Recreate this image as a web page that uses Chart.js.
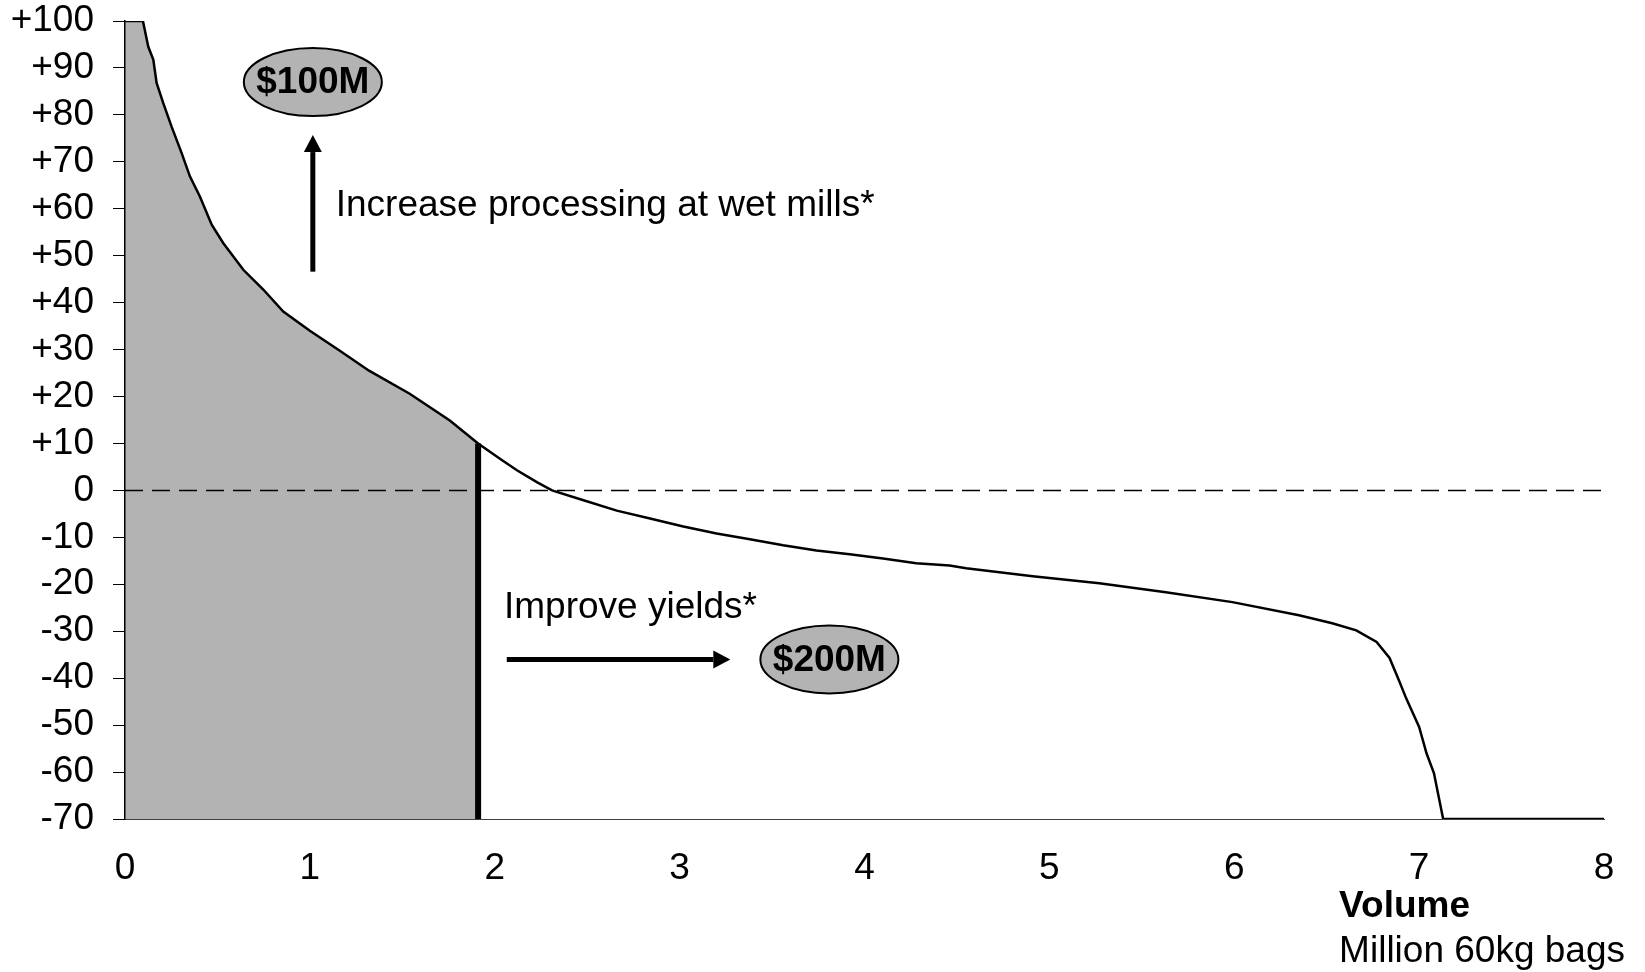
<!DOCTYPE html>
<html>
<head>
<meta charset="utf-8">
<script src="https://cdn.jsdelivr.net/npm/chart.js@4.4.1/dist/chart.umd.min.js"></script>
<style>
  body { margin: 0; background: #fff; }
  #wrap { width: 1645px; height: 972px; position: relative; }
</style>
</head>
<body>
<div id="wrap"><canvas id="curveCanvas"></canvas></div>
<script>
// margin curve (volume in million 60kg bags)
var volume = [0, 0.097, 0.126, 0.153, 0.171, 0.207, 0.252, 0.306, 0.351, 0.405, 0.469, 0.531, 0.64, 0.748, 0.856, 1.0,
  1.16, 1.32, 1.54, 1.757, 1.91, 2.03, 2.12, 2.23, 2.31, 2.48, 2.66, 2.84, 3.02, 3.2, 3.38, 3.56, 3.74,
  3.92, 4.1, 4.28, 4.46, 4.55, 4.91, 5.27, 5.63, 5.99, 6.35, 6.53, 6.66, 6.77, 6.84, 6.89, 6.93, 7.0,
  7.04, 7.08, 7.13, 8];
var margin = [100, 100, 94.5, 91.8, 86.8, 82.5, 77.5, 71.9, 66.9, 62.6, 56.6, 52.7, 47, 42.8, 38.1, 34,
  29.8, 25.5, 20.6, 14.9, 10, 6.7, 4.3, 1.7, 0, -2.1, -4.3, -6, -7.7, -9.2, -10.4, -11.7, -12.8,
  -13.6, -14.5, -15.5, -16, -16.6, -18.3, -19.8, -21.7, -23.8, -26.6, -28.3, -29.8, -32.3, -35.7, -40.4, -44.3, -50.4,
  -56, -60.2, -70, -70];
var cutoffVolume = 1.91;
var cutoffMargin = 10;
var yMin = -70, yMax = 100, yStep = 10;
var xMin = 0, xMax = 8, xStep = 1;
var bubbleLabels = ["$100M", "$200M"];
var noteLabels = ["Increase processing at wet mills*", "Improve yields*"];
var axisTitle = ["Volume", "Million 60kg bags"];

var FONT = "'Liberation Sans', Arial, sans-serif";
var SIZE = 37;

var curve = [];
var shaded = [];
for (var i = 0; i < volume.length; i++) {
    curve.push({ x: volume[i], y: margin[i] });
    if (volume[i] <= cutoffVolume) shaded.push({ x: volume[i], y: margin[i] });
}

// where the notes sit, in data units
var place = {
    bubble1: { x: 1.016, y: 87 },
    upArrow: { x: 1.016, y0: 46.6, y1: 75.7 },
    note1: { x: 1.14, y: 60.6 },
    note2: { x: 2.05, y: -25 },
    rightArrow: { y: -36, x0: 2.065, x1: 3.35 },
    bubble2: { x: 3.81, y: -36 }
};

function bubble(ctx, cx, cy, text) {
    ctx.save();
    ctx.beginPath();
    ctx.ellipse(cx, cy, 69, 34, 0, 0, Math.PI * 2);
    ctx.fillStyle = "#b3b3b3";
    ctx.fill();
    ctx.lineWidth = 2;
    ctx.strokeStyle = "#000";
    ctx.stroke();
    ctx.fillStyle = "#000";
    ctx.font = "bold " + SIZE + "px " + FONT;
    ctx.textAlign = "center";
    ctx.textBaseline = "middle";
    ctx.fillText(text, cx, cy + 1);
    ctx.restore();
}

function arrow(ctx, x0, y0, x1, y1) {
    var ang = Math.atan2(y1 - y0, x1 - x0);
    var head = 17, half = 9;
    var bx = x1 - head * Math.cos(ang), by = y1 - head * Math.sin(ang);
    ctx.save();
    ctx.strokeStyle = "#000";
    ctx.fillStyle = "#000";
    ctx.lineWidth = 5;
    ctx.beginPath();
    ctx.moveTo(x0, y0);
    ctx.lineTo(bx, by);
    ctx.stroke();
    ctx.beginPath();
    ctx.moveTo(x1, y1);
    ctx.lineTo(bx + half * Math.sin(ang), by - half * Math.cos(ang));
    ctx.lineTo(bx - half * Math.sin(ang), by + half * Math.cos(ang));
    ctx.closePath();
    ctx.fill();
    ctx.restore();
}

var notesPlugin = {
    id: "notes",
    afterDraw: function (chart) {
        var ctx = chart.ctx;
        var xs = chart.scales.x, ys = chart.scales.y;
        var p = place;
        bubble(ctx, xs.getPixelForValue(p.bubble1.x), ys.getPixelForValue(p.bubble1.y), bubbleLabels[0]);
        bubble(ctx, xs.getPixelForValue(p.bubble2.x), ys.getPixelForValue(p.bubble2.y), bubbleLabels[1]);
        arrow(ctx, xs.getPixelForValue(p.upArrow.x), ys.getPixelForValue(p.upArrow.y0),
            xs.getPixelForValue(p.upArrow.x), ys.getPixelForValue(p.upArrow.y1));
        arrow(ctx, xs.getPixelForValue(p.rightArrow.x0), ys.getPixelForValue(p.rightArrow.y),
            xs.getPixelForValue(p.rightArrow.x1) - 14, ys.getPixelForValue(p.rightArrow.y));

        ctx.save();
        ctx.fillStyle = "#000";
        ctx.font = SIZE + "px " + FONT;
        ctx.textAlign = "left";
        ctx.textBaseline = "middle";
        ctx.fillText(noteLabels[0], xs.getPixelForValue(p.note1.x), ys.getPixelForValue(p.note1.y));
        ctx.fillText(noteLabels[1], xs.getPixelForValue(p.note2.x), ys.getPixelForValue(p.note2.y));

        // axis title, two lines under the right end of the x axis
        var w = ctx.measureText(axisTitle[1]).width;
        var left = chart.width - 20 - w;
        ctx.fillText(axisTitle[1], left, chart.chartArea.bottom + 133);
        ctx.font = "bold " + SIZE + "px " + FONT;
        ctx.fillText(axisTitle[0], left, chart.chartArea.bottom + 88);
        ctx.restore();
    }
};

window.onload = function () {
    var ctx = document.getElementById("curveCanvas").getContext("2d");
    Chart.defaults.font.family = FONT;
    Chart.defaults.color = "#000";
    new Chart(ctx, {
        type: "line",
        data: {
            datasets: [
                {
                    label: "curve",
                    data: curve,
                    borderColor: "#000",
                    borderWidth: 2.5,
                    pointRadius: 0,
                    fill: false,
                    tension: 0,
                    order: 1
                },
                {
                    label: "cutoff",
                    data: [{ x: cutoffVolume, y: yMin }, { x: cutoffVolume, y: cutoffMargin }],
                    borderColor: "#000",
                    borderWidth: 6,
                    pointRadius: 0,
                    fill: false,
                    order: 2
                },
                {
                    label: "zero",
                    data: [{ x: xMin, y: 0 }, { x: xMax, y: 0 }],
                    borderColor: "#000",
                    borderWidth: 1.5,
                    borderDash: [18, 9],
                    pointRadius: 0,
                    fill: false,
                    order: 3
                },
                {
                    label: "shaded",
                    data: shaded,
                    borderWidth: 0,
                    borderColor: "rgba(0,0,0,0)",
                    backgroundColor: "#b3b3b3",
                    pointRadius: 0,
                    fill: "start",
                    tension: 0,
                    order: 4
                }
            ]
        },
        options: {
            responsive: true,
            maintainAspectRatio: false,
            animation: false,
            layout: { padding: { top: 21, right: 41, left: 0, bottom: 0 } },
            plugins: {
                legend: { display: false },
                tooltip: { enabled: false }
            },
            scales: {
                x: {
                    type: "linear",
                    min: xMin,
                    max: xMax,
                    ticks: { stepSize: xStep, padding: 28, autoSkip: false, maxRotation: 0, font: { size: SIZE }, color: "#000" },
                    grid: { display: false, drawTicks: false },
                    border: { display: true, color: "#404040", width: 1, z: 1 },
                    afterFit: function (scale) {
                        scale.height = 153;
                        scale.paddingLeft = 0;
                        scale.paddingRight = 0;
                    }
                },
                y: {
                    min: yMin,
                    max: yMax,
                    ticks: {
                        stepSize: yStep,
                        padding: 19,
                        autoSkip: false,
                        font: { size: SIZE },
                        color: "#000",
                        callback: function (v) { return v > 0 ? "+" + v : "" + v; }
                    },
                    grid: { drawOnChartArea: false, drawTicks: true, tickLength: 12, color: "#000", lineWidth: 1 },
                    border: { display: true, color: "#000", width: 1.5, z: 1 },
                    afterFit: function (scale) {
                        scale.width = 125;
                        scale.paddingTop = 0;
                        scale.paddingBottom = 0;
                    }
                }
            }
        },
        plugins: [notesPlugin]
    });
};
</script>
</body>
</html>
